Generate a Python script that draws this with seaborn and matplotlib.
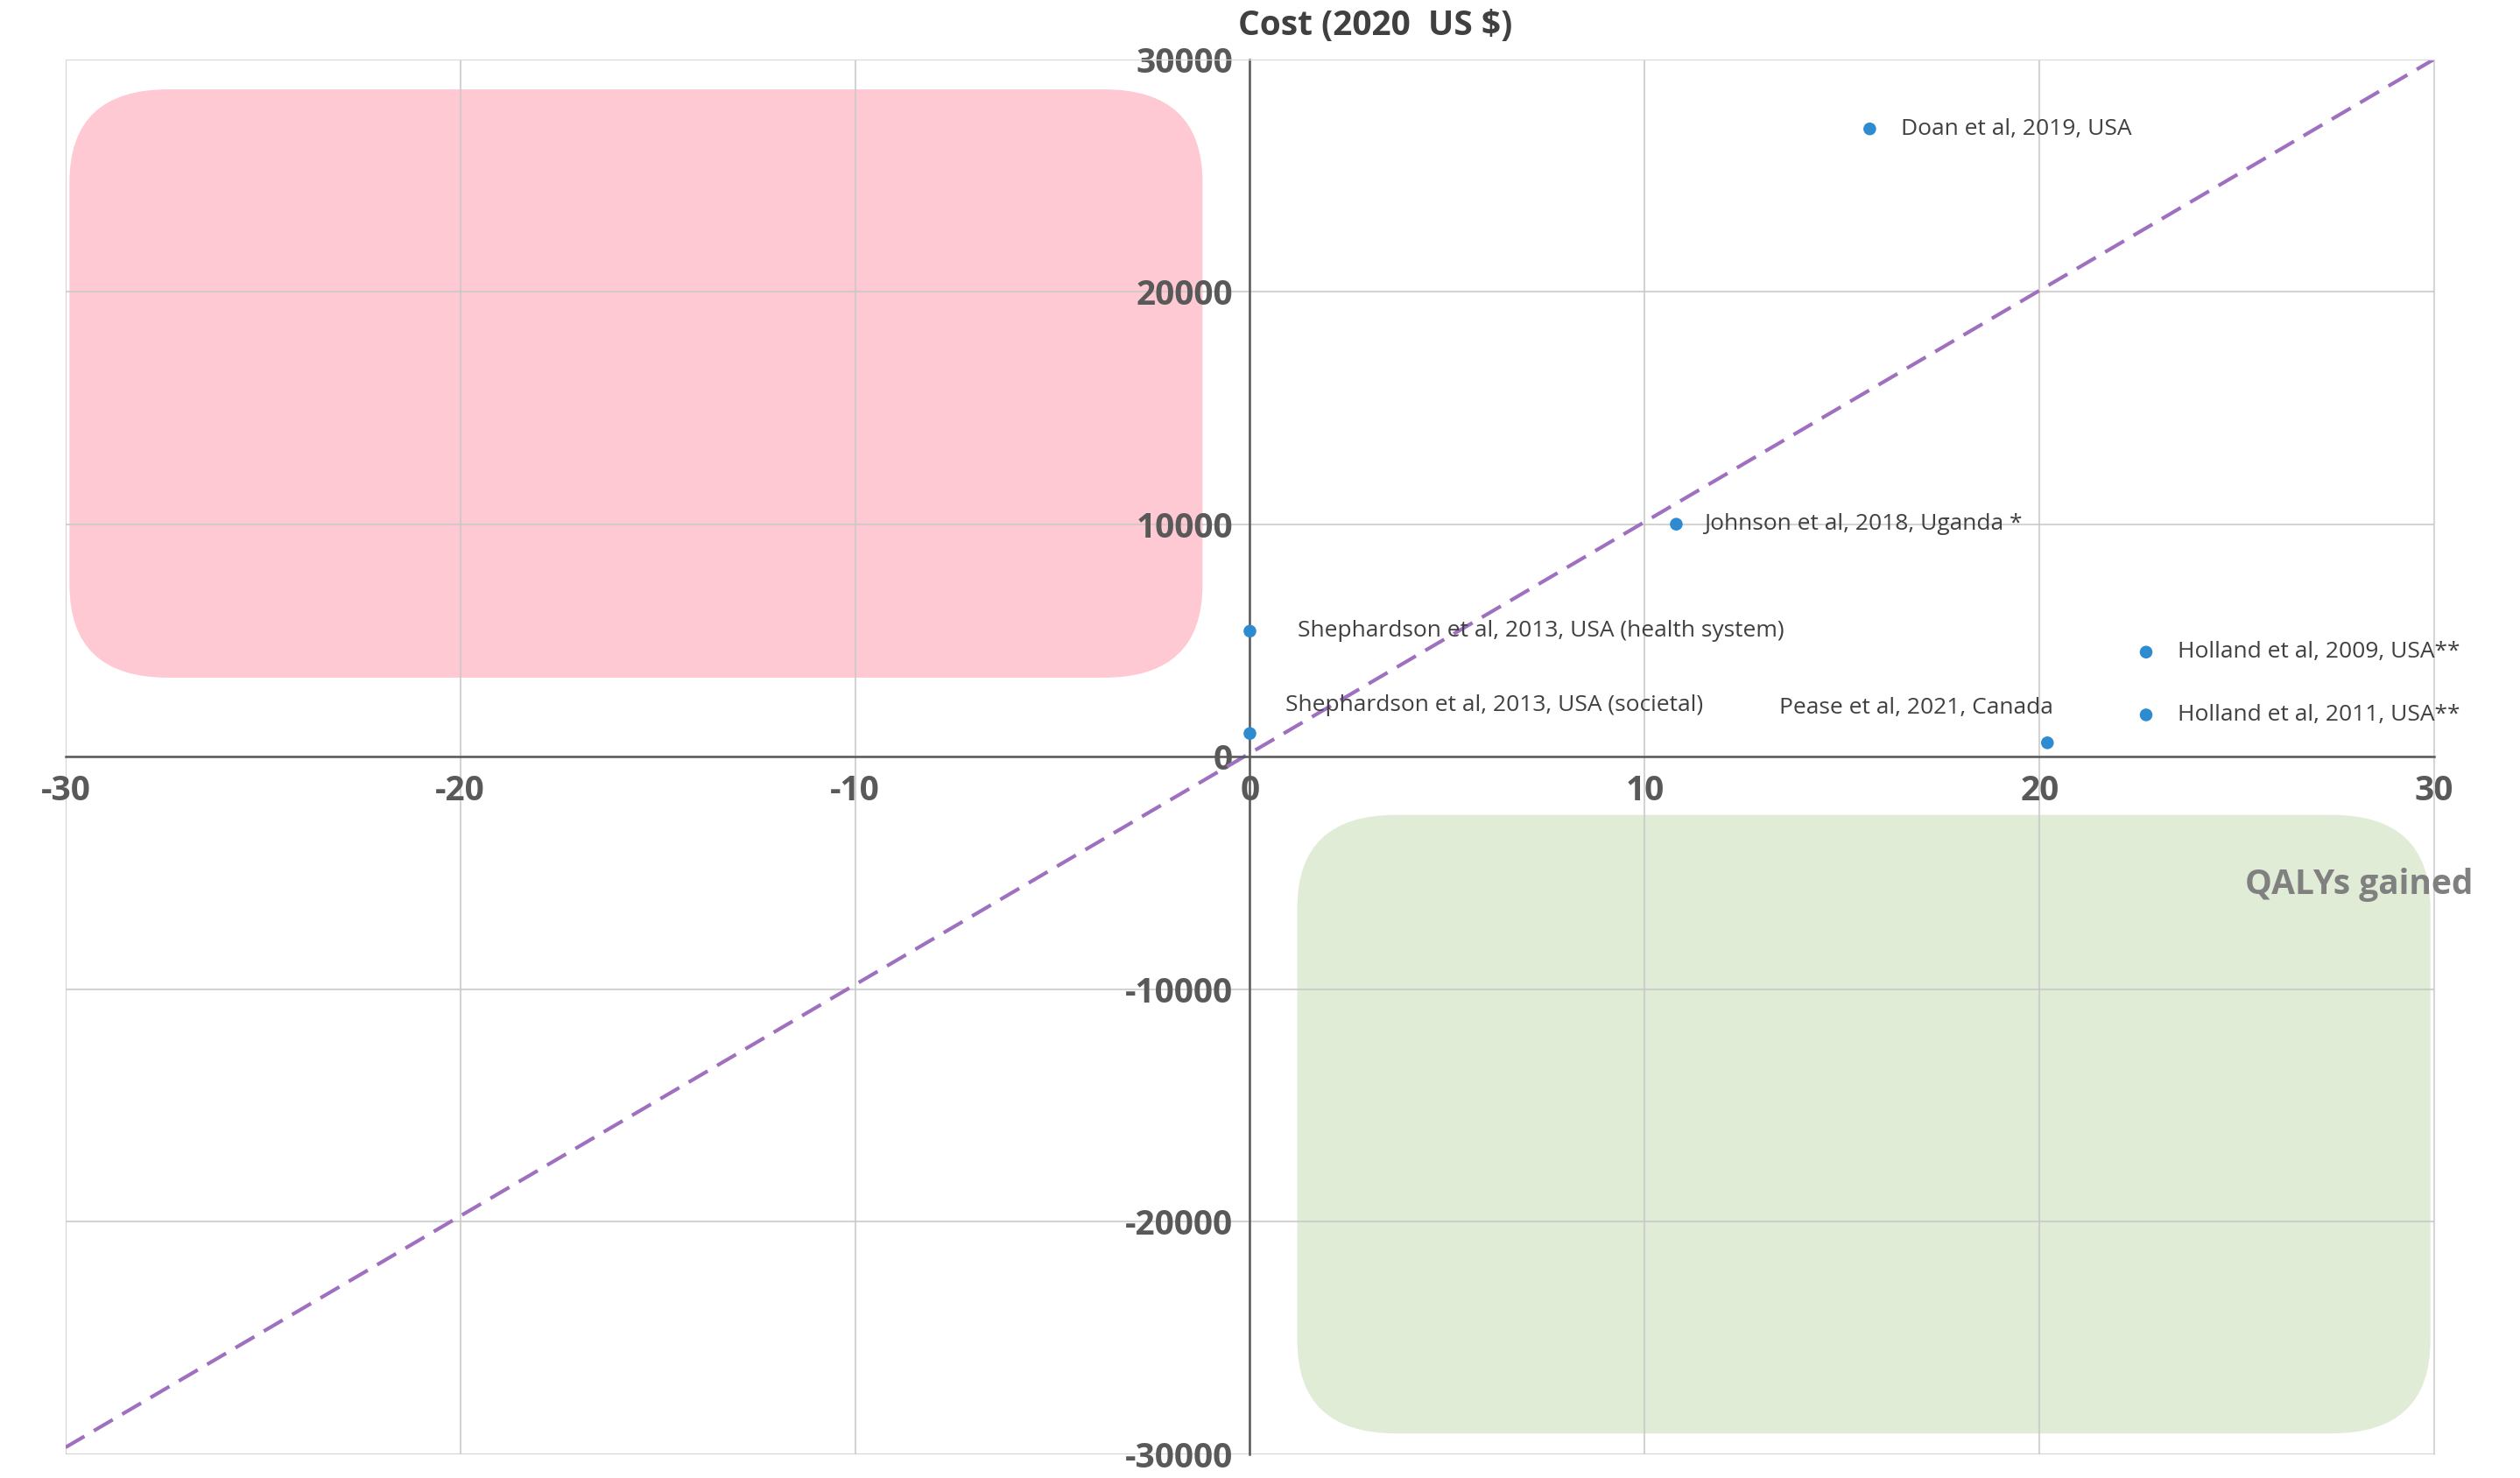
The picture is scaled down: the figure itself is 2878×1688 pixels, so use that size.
import matplotlib
matplotlib.use('Agg')
import matplotlib.pyplot as plt
from matplotlib.patches import FancyBboxPatch
import seaborn as sns
import pandas as pd

studies = ['Doan et al, 2019, USA', 'Johnson et al, 2018, Uganda *',
           'Shephardson et al, 2013, USA (health system)',
           'Shephardson et al, 2013, USA (societal)', 'Pease et al, 2021, Canada',
           'Holland et al, 2009, USA**', 'Holland et al, 2011, USA**']
qalys = [15.7, 10.8, 0.0, 0.0, 20.2, 22.7, 22.7]
costs = [27000, 10000, 5400, 1000, 600, 4500, 1800]
label_dx = [0.8, 0.7, 1.2, 0.9, -6.8, 0.8, 0.8]
label_dy = [0, 0, 0, 1200, 1500, 0, 0]

xticks = [-30, -20, -10, 0, 10, 20, 30]
yticks = [-30000, -20000, -10000, 0, 10000, 20000, 30000]

sns.set_style('white')
plt.rcParams['font.family'] = ['Open Sans', 'DejaVu Sans']
plt.rcParams['axes.unicode_minus'] = False

fig = plt.figure(figsize=(28.78, 16.88), dpi=100)
ax = fig.add_axes([0.026, 0.016, 0.94, 0.944])
ax.set_xlim(-30, 30)
ax.set_ylim(-30000, 30000)

# quadrant shading
ax.add_patch(FancyBboxPatch((-29.9, 3400), 28.7, 25300,
             boxstyle='round,pad=0,rounding_size=2.5', mutation_aspect=1600,
             fc='#ffc9d3', ec='none', zorder=0))
ax.add_patch(FancyBboxPatch((1.2, -29100), 28.7, 26600,
             boxstyle='round,pad=0,rounding_size=2.5', mutation_aspect=1600,
             fc='#e0ecd6', ec='none', zorder=0))

ax.set_xticks(xticks)
ax.set_yticks(yticks)
ax.grid(True, color='#c8c8c8', lw=1.5, alpha=0.8)
for g in ax.get_xgridlines() + ax.get_ygridlines():
    g.set_zorder(1)
for s in ['top', 'right']:
    ax.spines[s].set_color('#d9d9d9')
ax.spines['left'].set_position(('data', 0))
ax.spines['bottom'].set_position(('data', 0))
ax.spines['left'].set_color('#595959')
ax.spines['bottom'].set_color('#595959')
ax.spines['left'].set_linewidth(1.8)
ax.spines['bottom'].set_linewidth(1.8)
ax.tick_params(length=0, labelsize=28, labelcolor='#595959', pad=14)
for t in ax.get_xticklabels() + ax.get_yticklabels():
    t.set_fontweight('bold')

# diagonal threshold
ax.plot([-30, 30], [-29700, 30000], ls=(0, (6, 3)), color='#a070c0', lw=3, zorder=2)

df = pd.DataFrame({'study': studies, 'qaly': qalys, 'cost': costs})
sns.scatterplot(data=df, x='qaly', y='cost', ax=ax, color='#2e8bd0', s=110,
                edgecolor='none', zorder=3, legend=False)
for s, x, y, dx, dy in zip(studies, qalys, costs, label_dx, label_dy):
    ax.text(x + dx, y + dy, s, fontsize=19, color='#404040', va='center', zorder=4)

ax.set_xlabel('')
ax.set_ylabel('')
ax.text(-0.3, 30700, 'Cost (2020  US $)', fontsize=28, fontweight='bold',
        color='#404040', va='bottom')
ax.text(25.2, -5500, 'QALYs gained', fontsize=28, fontweight='bold',
        color='#808080', va='center')

fig.savefig('out.png', dpi=100)
